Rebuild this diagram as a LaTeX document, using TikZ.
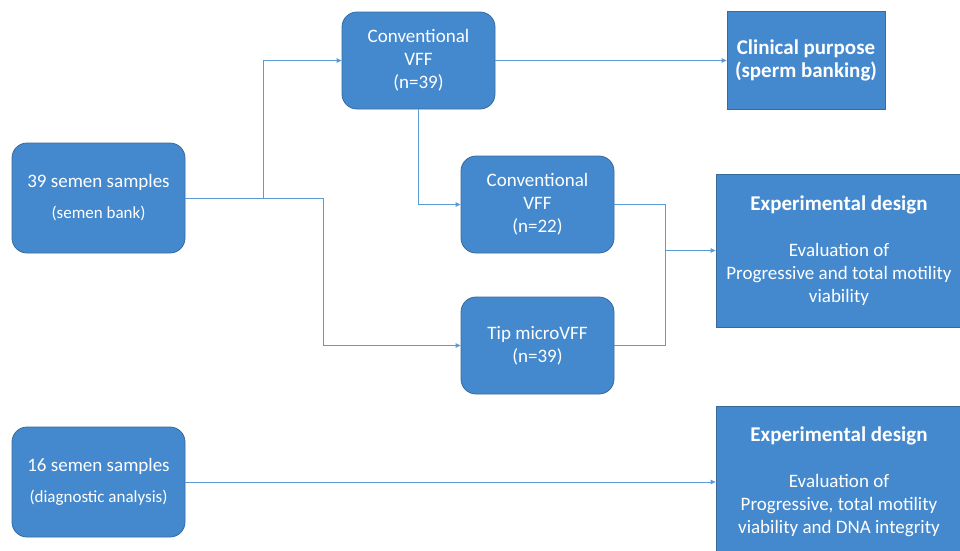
\documentclass[tikz,border=0pt]{standalone}
\usepackage{fontspec}
\setmainfont{Carlito}
\usetikzlibrary{arrows.meta}
\definecolor{boxblue}{RGB}{68,137,206}
\definecolor{boxedge}{RGB}{57,106,156}
\definecolor{linkblue}{RGB}{91,155,213}
\begin{document}
\begin{tikzpicture}[x=1pt,y=-1pt,
    box/.style={fill=boxblue, draw=boxedge, line width=0.8pt, text=white, align=center,
      inner sep=0pt, font=\fontsize{19}{23}\selectfont},
    sample/.style={box, rounded corners=15pt, minimum width=173pt, minimum height=110pt},
    method/.style={box, rounded corners=15pt, minimum width=153pt, minimum height=97pt},
    outcome/.style={box, rectangle},
    wire/.style={draw=linkblue, line width=0.8pt},
    link/.style={wire, -{Triangle[length=5pt,width=4.5pt]}}]
  \useasboundingbox (0,0) rectangle (960,550);
  % samples
  \node[sample] (bank) at (98.5,198) {39 semen samples\\[8pt]{\fontsize{17}{19}\selectfont(semen bank)}};
  \node[sample] (diag) at (98.5,482) {16 semen samples\\[8pt]{\fontsize{17}{19}\selectfont(diagnostic analysis)}};
  % methods
  \node[method] (c39) at (418.5,60.5) {Conventional\\VFF\\(n=39)};
  \node[method] (c22) at (537.5,204.5) {Conventional\\VFF\\(n=22)};
  \node[method] (tip) at (537.5,345.5) {Tip microVFF\\(n=39)};
  % outcomes
  \node[outcome, minimum width=158pt, minimum height=98pt] (clinical) at (806,60.5)
    {\fontsize{21}{25}\selectfont\bfseries Clinical purpose\\\fontsize{21}{25}\selectfont\bfseries(sperm banking)};
  \node[outcome, minimum width=246pt, minimum height=153pt] (design1) at (839,250.5)
    {{\fontsize{21}{23}\selectfont\bfseries Experimental design}\\[23pt]Evaluation of\\Progressive and total motility\\viability};
  \node[outcome, minimum width=246pt, minimum height=152pt] (design2) at (839,482)
    {{\fontsize{21}{23}\selectfont\bfseries Experimental design}\\[23pt]Evaluation of\\Progressive, total motility\\viability and DNA integrity};
  % connectors
  \coordinate (fork) at (263,198);
  \coordinate (join) at (665,250.5);
  \draw[wire] (bank.east) -- (fork);
  \draw[link] (fork) |- (c39.west);
  \draw[link] (bank.east) -- (323,198) |- (tip.west);
  \draw[link] (c39.south) |- (c22.west);
  \draw[link] (c39.east) -- (clinical.west);
  \draw[wire] (c22.east) -| (join);
  \draw[wire] (tip.east) -| (join);
  \draw[link] (join) -- (design1.west);
  \draw[link] (diag.east) -- (design2.west);
\end{tikzpicture}
\end{document}
